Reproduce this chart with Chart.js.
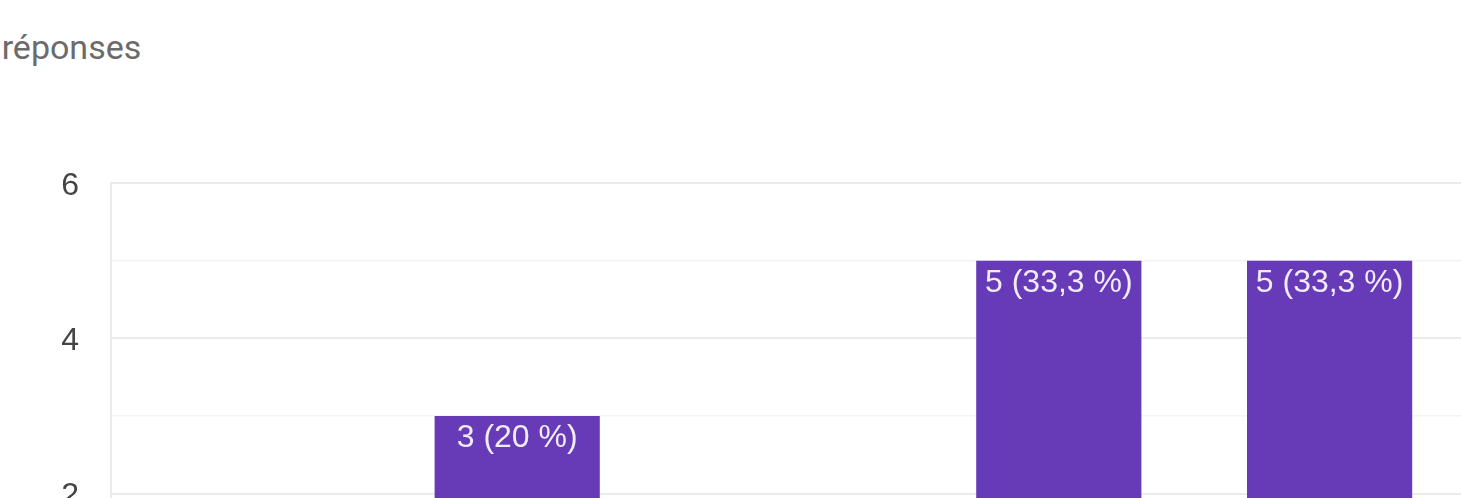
<!DOCTYPE html>
<html>
<head>
<meta charset="utf-8">
<script src="https://cdn.jsdelivr.net/npm/chart.js@4/dist/chart.umd.min.js"></script>
<style>
  html, body { margin: 0; padding: 0; background: #ffffff; overflow: hidden; width: 1461px; height: 498px; }
  #resp { position: absolute; left: -45px; top: 30px; font-family: Roboto, sans-serif; font-size: 34px; line-height: 1; color: #6b6b6b; white-space: nowrap; }
  #wrap { position: absolute; left: 0; top: 0; width: 1500px; height: 700px; }
</style>
</head>
<body>
<div id="resp">15 réponses</div>
<div id="wrap"><canvas id="c" width="1500" height="700"></canvas></div>
<script>
const categories = ["1", "2", "3", "4", "5"];
const counts = [1, 3, 1, 5, 5];
const valueLabels = ["1 (6,7 %)", "3 (20 %)", "1 (6,7 %)", "5 (33,3 %)", "5 (33,3 %)"];
const yTicks = [0, 2, 4, 6];

const barLabels = {
  id: 'barLabels',
  afterDatasetsDraw(chart) {
    const ctx = chart.ctx;
    const meta = chart.getDatasetMeta(0);
    ctx.save();
    ctx.font = '32px "Liberation Sans", Arial, sans-serif';
    ctx.fillStyle = '#f1ecf9';
    ctx.textAlign = 'center';
    ctx.textBaseline = 'alphabetic';
    meta.data.forEach((bar, i) => {
      ctx.fillText(valueLabels[i], bar.x, bar.y + 31);
    });
    ctx.restore();
  }
};

new Chart(document.getElementById('c'), {
  type: 'bar',
  data: {
    labels: categories,
    datasets: [{
      data: counts,
      backgroundColor: '#673ab7',
      borderWidth: 0,
      barPercentage: 0.61,
      categoryPercentage: 1.0
    }]
  },
  options: {
    responsive: false,
    animation: false,
    layout: { padding: { left: 0, top: 183, right: 35, bottom: 43 } },
    plugins: { legend: { display: false }, tooltip: { enabled: false } },
    scales: {
      x: { display: false },
      y: {
        min: 0, max: 6,
        afterFit(scale) { scale.width = 111; },
        afterBuildTicks(scale) {
          scale.ticks = [0,1,2,3,4,5,6].map(v => ({ value: v }));
        },
        ticks: {
          padding: 32,
          labelOffset: 3,
          color: '#444444',
          font: { family: '"Liberation Sans", Arial, sans-serif', size: 32 },
          callback: (v) => yTicks.includes(v) ? String(v) : ''
        },
        grid: {
          drawTicks: false,
          color: (c) => (c.tick && c.tick.value % 2 === 0) ? '#ebebeb' : '#f3f3f3',
          lineWidth: (c) => (c.tick && c.tick.value % 2 === 0) ? 2 : 1.5
        },
        border: { display: true, color: '#ebebeb', width: 2 }
      }
    }
  },
  plugins: [barLabels]
});
</script>
</body>
</html>
